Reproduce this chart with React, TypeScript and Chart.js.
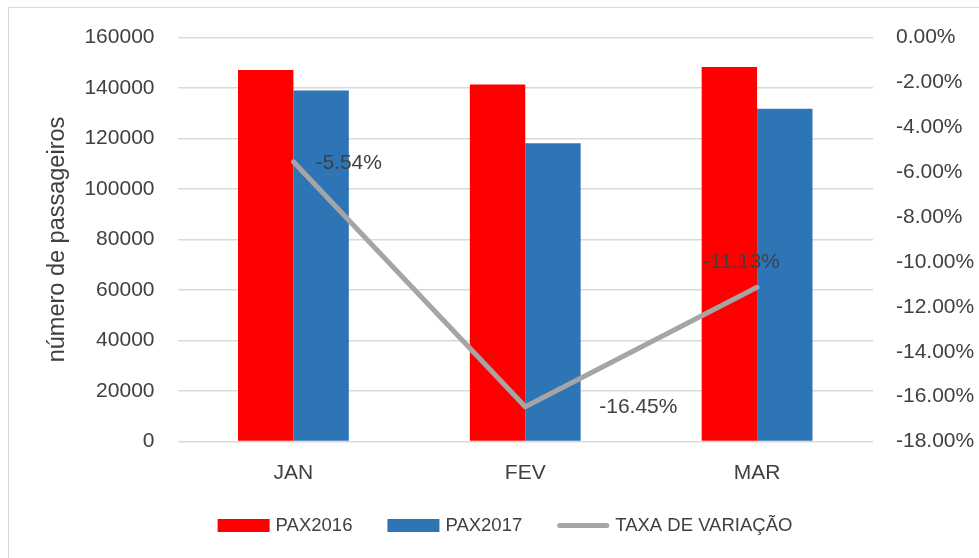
import React, { useEffect, useRef } from 'react';
import { Chart, registerables } from 'chart.js';

Chart.register(...registerables);

const categories = ['JAN', 'FEV', 'MAR'];
const pax2016 = [147100, 141400, 148300];
const pax2017 = [139000, 118100, 131800];
const taxaVariacao = [-5.54, -16.45, -11.13];
const seriesLabels = ['PAX2016', 'PAX2017', 'TAXA DE VARIAÇÃO'];
const leftAxisTitle = 'número de passageiros';

const FONT = "'Liberation Sans', Arial, sans-serif";
const TEXT = '#404040';
const GRID = '#d9d9d9';

const rateLabelsPlugin = {
  id: 'rateLabels',
  afterDatasetsDraw(chart: any, _args: any, opts: any) {
    const idx = chart.data.datasets.findIndex((d: any) => d.type === 'line');
    if (idx < 0) return;
    const meta = chart.getDatasetMeta(idx);
    const ctx = chart.ctx;
    ctx.save();
    ctx.font = `${opts.size}px ${FONT}`;
    ctx.fillStyle = TEXT;
    ctx.textAlign = 'left';
    ctx.textBaseline = 'middle';
    meta.data.forEach((pt: any, i: number) => {
      const v = chart.data.datasets[idx].data[i];
      const [dx, dy] = opts.offsets[i];
      ctx.fillText(Number(v).toFixed(2) + '%', pt.x + dx, pt.y + dy);
    });
    ctx.restore();
  },
};

const customLegendPlugin = {
  id: 'customLegend',
  afterDraw(chart: any, _args: any, opts: any) {
    const ctx = chart.ctx;
    ctx.save();
    ctx.font = `${opts.size}px ${FONT}`;
    const items = chart.data.datasets.map((ds: any) => ({
      text: ds.label,
      color: ds.type === 'line' ? ds.borderColor : ds.backgroundColor,
      line: ds.type === 'line',
      lw: ds.borderWidth,
    }));
    const widths = items.map(
      (it: any) => opts.boxWidth + opts.textGap + ctx.measureText(it.text).width
    );
    const total =
      widths.reduce((a: number, b: number) => a + b, 0) + opts.itemGap * (items.length - 1);
    let x = chart.width / 2 - total / 2 + opts.shiftX;
    const y = opts.y;
    items.forEach((it: any, i: number) => {
      if (it.line) {
        ctx.strokeStyle = it.color;
        ctx.lineWidth = it.lw;
        ctx.lineCap = 'round';
        ctx.beginPath();
        ctx.moveTo(x + it.lw / 2, y);
        ctx.lineTo(x + opts.boxWidth - it.lw / 2, y);
        ctx.stroke();
      } else {
        ctx.fillStyle = it.color;
        ctx.fillRect(x, y - opts.boxHeight / 2, opts.boxWidth, opts.boxHeight);
      }
      ctx.fillStyle = TEXT;
      ctx.textAlign = 'left';
      ctx.textBaseline = 'middle';
      ctx.fillText(it.text, x + opts.boxWidth + opts.textGap, y);
      x += widths[i] + opts.itemGap;
    });
    ctx.restore();
  },
};

export default function App() {
  const canvasRef = useRef<HTMLCanvasElement | null>(null);

  useEffect(() => {
    if (!canvasRef.current) return;
    const tickFont = { family: FONT, size: 21 };
    const chart = new Chart(canvasRef.current, {
      type: 'bar',
      data: {
        labels: categories,
        datasets: [
          {
            type: 'bar',
            label: seriesLabels[0],
            data: pax2016,
            backgroundColor: '#FF0000',
            borderWidth: 0,
            yAxisID: 'y',
            order: 1,
            categoryPercentage: 0.478,
            barPercentage: 1.0,
          },
          {
            type: 'bar',
            label: seriesLabels[1],
            data: pax2017,
            backgroundColor: '#2E75B6',
            borderWidth: 0,
            yAxisID: 'y',
            order: 1,
            categoryPercentage: 0.478,
            barPercentage: 1.0,
          },
          {
            type: 'line',
            label: seriesLabels[2],
            data: taxaVariacao,
            borderColor: '#A5A5A5',
            backgroundColor: '#A5A5A5',
            borderWidth: 5,
            borderCapStyle: 'round',
            borderJoinStyle: 'round',
            pointRadius: 0,
            pointHoverRadius: 0,
            tension: 0,
            yAxisID: 'y1',
            order: 0,
          },
        ] as any,
      },
      options: {
        responsive: false,
        animation: false,
        events: [],
        layout: { padding: { top: 29.5, left: 0, right: 0, bottom: 56.5 } },
        plugins: {
          legend: { display: false },
          tooltip: { enabled: false },
          rateLabels: {
            size: 21,
            offsets: [
              [22, 1],
              [74, 0],
              [-54, -25],
            ],
          },
          customLegend: {
            size: 18.5,
            boxWidth: 52,
            boxHeight: 13,
            textGap: 6,
            itemGap: 35,
            shiftX: -1.5,
            y: 517.5,
          },
        } as any,
        scales: {
          x: {
            grid: { display: false },
            border: { display: false },
            ticks: { color: TEXT, font: tickFont, padding: 11 },
            afterFit: (s: any) => {
              s.height = 60;
            },
          },
          y: {
            position: 'left',
            min: 0,
            max: 160000,
            grid: { color: GRID, lineWidth: 1.5, drawTicks: false },
            border: { display: false },
            ticks: {
              stepSize: 20000,
              padding: 23,
              color: TEXT,
              font: tickFont,
              callback: (v: any) => String(v),
            },
            title: {
              display: true,
              text: leftAxisTitle,
              color: TEXT,
              font: { family: FONT, size: 23.5, lineHeight: 1.2 },
              padding: { top: 34, bottom: 0 },
            },
            afterFit: (s: any) => {
              s.width = 168.5;
              s.paddingTop = 0;
              s.paddingBottom = 0;
            },
          },
          y1: {
            position: 'right',
            min: -18,
            max: 0,
            grid: { display: false, drawTicks: false },
            border: { display: false },
            ticks: {
              stepSize: 2,
              padding: 23,
              color: TEXT,
              font: tickFont,
              callback: (v: any) => Number(v).toFixed(2) + '%',
            },
            afterFit: (s: any) => {
              s.width = 131;
              s.paddingTop = 0;
              s.paddingBottom = 0;
            },
          },
        } as any,
      },
      plugins: [rateLabelsPlugin, customLegendPlugin],
    });
    return () => chart.destroy();
  }, []);

  return (
    <div
      style={{
        position: 'fixed',
        left: 8,
        top: 7,
        width: 971,
        height: 551,
        boxSizing: 'border-box',
        borderTop: `1px solid ${GRID}`,
        borderLeft: `1px solid ${GRID}`,
        overflow: 'hidden',
        background: '#fff',
      }}
    >
      <canvas ref={canvasRef} width={995} height={550} style={{ display: 'block' }} />
    </div>
  );
}
